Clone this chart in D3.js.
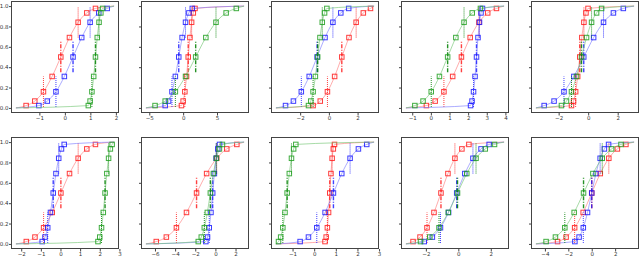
<!DOCTYPE html>
<html>
<head>
<meta charset="utf-8">
<script src="https://cdn.jsdelivr.net/npm/d3@7"></script>
<style>
	body { margin: 0; background: #fff; }
	svg { display: block; }
	.tick text { font-family: "DejaVu Sans", sans-serif; font-size: 5.5px; fill: #333; }
	.tick line { stroke: #444; }
</style>
</head>
<body>
<svg id="chart" width="640" height="257"></svg>
<script>
// cumulative levels where the square markers sit
const levels = [0.023, 0.067, 0.159, 0.309, 0.5, 0.691, 0.841, 0.933, 0.977];

// marker x positions, one row per panel (row 1 left->right, then row 2)
const redX = [
	[-1.52, -1.18, -0.84, -0.50, -0.16, 0.18, 0.52, 0.86, 1.20],
	[-0.25, 0.00, 0.25, 0.50, 0.75, 1.00, 1.25, 1.50, 1.75],
	[-1.10, -0.60, -0.10, 0.40, 0.90, 1.40, 1.90, 2.40, 2.90],
	[-0.24, 0.23, 0.70, 1.17, 1.64, 2.11, 2.58, 3.05, 3.52],
	[-1.13, -0.99, -0.85, -0.71, -0.57, -0.43, -0.29, -0.15, -0.01],
	[-1.74, -1.30, -0.86, -0.42, 0.02, 0.46, 0.90, 1.34, 1.78],
	[-5.87, -4.87, -3.87, -2.87, -1.87, -0.87, 0.13, 1.13, 2.13],
	[0.50, 0.555, 0.61, 0.665, 0.72, 0.775, 0.83, 0.885, 0.94],
	[-2.79, -2.36, -1.93, -1.50, -1.07, -0.64, -0.21, 0.22, 0.65],
	[-2.92, -2.19, -1.46, -0.73, 0.00, 0.73, 1.46, 2.19, 2.92]
];
const blueX = [
	[-1.02, -0.69, -0.35, -0.02, 0.32, 0.66, 0.99, 1.33, 1.66],
	[-2.65, -2.15, -1.65, -1.15, -0.65, -0.15, 0.35, 0.85, 1.35],
	[-3.02, -2.47, -1.92, -1.37, -0.82, -0.27, 0.28, 0.83, 1.38],
	[2.13, 2.21, 2.29, 2.37, 2.45, 2.53, 2.61, 2.69, 2.77],
	[-2.98, -2.31, -1.64, -0.97, -0.30, 0.37, 1.04, 1.71, 2.38],
	[-0.93, -0.79, -0.65, -0.51, -0.37, -0.23, -0.09, 0.05, 0.19],
	[-0.95, -0.78, -0.61, -0.44, -0.27, -0.10, 0.07, 0.24, 0.41],
	[-0.65, -0.265, 0.12, 0.505, 0.89, 1.275, 1.66, 2.045, 2.43],
	[-2.10, -1.60, -1.10, -0.60, -0.10, 0.40, 0.90, 1.40, 1.90],
	[-1.44, -1.08, -0.72, -0.36, 0.00, 0.36, 0.72, 1.08, 1.44]
];
const greenX = [
	[0.92, 0.99, 1.06, 1.13, 1.20, 1.27, 1.34, 1.41, 1.48],
	[-4.15, -2.65, -1.15, 0.35, 1.85, 3.35, 4.85, 6.35, 7.85],
	[-1.42, -1.26, -1.10, -0.94, -0.78, -0.62, -0.46, -0.30, -0.14],
	[-0.86, -0.42, 0.02, 0.46, 0.90, 1.34, 1.78, 2.22, 2.66],
	[-1.81, -1.47, -1.13, -0.79, -0.45, -0.11, 0.23, 0.57, 0.91],
	[1.91, 2.00, 2.09, 2.18, 2.27, 2.36, 2.45, 2.54, 2.63],
	[-1.70, -1.40, -1.10, -0.80, -0.50, -0.20, 0.10, 0.40, 0.70],
	[-1.65, -1.55, -1.45, -1.35, -1.25, -1.15, -1.05, -0.95, -0.85],
	[-2.33, -1.76, -1.19, -0.62, -0.05, 0.52, 1.09, 1.66, 2.23],
	[-3.90, -3.10, -2.30, -1.50, -0.70, 0.10, 0.90, 1.70, 2.50]
];

// x range covered by the curves in each panel
const xExtent = [
	[-1.92, 1.93], [-5.5, 9.0], [-3.69, 3.15], [-1.34, 3.93], [-3.54, 3.11],
	[-2.27, 2.73], [-6.9, 2.85], [-1.77, 2.77], [-3.23, 2.82], [-4.77, 3.62]
];
const xTicks = [
	[-1, 0, 1, 2], [-5, 0, 5], [-2, 0, 2], [-1, 0, 1, 2, 3, 4], [-2, 0, 2],
	[-2, -1, 0, 1, 2, 3], [-6, -4, -2, 0, 2], [-1, 0, 1, 2, 3], [-2, 0, 2], [-4, -2, 0, 2]
];
const yTicks = [0, 0.2, 0.4, 0.6, 0.8, 1.0];

const series = [
	{ data: redX, line: "#ff7a7a", mark: "#ff1a1a", seg: "#ff2020" },
	{ data: blueX, line: "#7a7aff", mark: "#1a1aff", seg: "#2020ff" },
	{ data: greenX, line: "#72c672", mark: "#1f9f1f", seg: "#008000" }
];

const svg = d3.select("#chart");
const panelW = 108, panelH = 112;

function panel_box(i) {
	let col = i % 5, row = Math.floor(i / 5);
	return { x: 11 + 130 * col, y: row == 0 ? 1 : 137 };
}

for (let i = 0; i < 10; i++) {
	let box = panel_box(i);
	let lo = xExtent[i][0], hi = xExtent[i][1];
	let pad = (hi - lo) * 0.05;
	let x = d3.scaleLinear().domain([lo - pad, hi + pad]).range([box.x, box.x + panelW]);
	let y = d3.scaleLinear().domain([-0.05, 1.05]).range([box.y + panelH, box.y]);
	let g = svg.append("g");

	let clip = "clip" + i;
	svg.append("clipPath").attr("id", clip).append("rect")
		.attr("x", box.x).attr("y", box.y).attr("width", panelW).attr("height", panelH);
	let plot = g.append("g").attr("clip-path", "url(#" + clip + ")");

	let curve = d3.line().x(d => x(d[0])).y(d => y(d[1])).curve(d3.curveMonotoneX);

	series.forEach(s => {
		let xs = s.data[i];
		let pts = [[lo, 0]].concat(xs.map((v, j) => [v, levels[j]])).concat([[hi, 1]]);
		plot.append("path").attr("d", curve(pts))
			.attr("fill", "none").attr("stroke", s.line).attr("stroke-width", 0.9).attr("opacity", 0.7);

		// vertical marks at -1 sd, mean, +1 sd
		[2, 4, 6].forEach(j => {
			let y0 = Math.max(0, levels[j] - 0.15), y1 = Math.min(1, levels[j] + 0.15);
			plot.append("line")
				.attr("x1", x(xs[j])).attr("x2", x(xs[j]))
				.attr("y1", y(y0)).attr("y2", y(y1))
				.attr("stroke", s.seg)
				.attr("stroke-width", j == 4 ? 1.4 : 1)
				.attr("stroke-dasharray", j == 4 ? "4,1.5,1,1.5" : "1,1")
				.attr("opacity", 0.85);
		});

		plot.selectAll(null).data(xs).enter().append("rect")
			.attr("x", d => x(d) - 2.25)
			.attr("y", (d, j) => y(levels[j]) - 2.25)
			.attr("width", 4.5).attr("height", 4.5)
			.attr("fill", "none").attr("stroke", s.mark).attr("stroke-width", 1).attr("opacity", 0.85);
	});

	// frame
	g.append("rect")
		.attr("x", box.x + 0.5).attr("y", box.y + 0.5)
		.attr("width", panelW - 1).attr("height", panelH - 1)
		.attr("fill", "none").attr("stroke", "#444").attr("stroke-width", 1);

	let xAxis = d3.axisBottom(x).tickValues(xTicks[i]).tickFormat(d3.format("d"))
		.tickSize(2.5).tickPadding(1);
	let gx = g.append("g").attr("transform", "translate(0," + (box.y + panelH) + ")").call(xAxis);
	gx.select(".domain").remove();

	let yAxis = d3.axisLeft(y).tickValues(yTicks).tickSize(2).tickPadding(0.5)
		.tickFormat(i % 5 == 0 ? d3.format(".1f") : "");
	let gy = g.append("g").attr("transform", "translate(" + box.x + ",0)").call(yAxis);
	gy.select(".domain").remove();
}
</script>
</body>
</html>
